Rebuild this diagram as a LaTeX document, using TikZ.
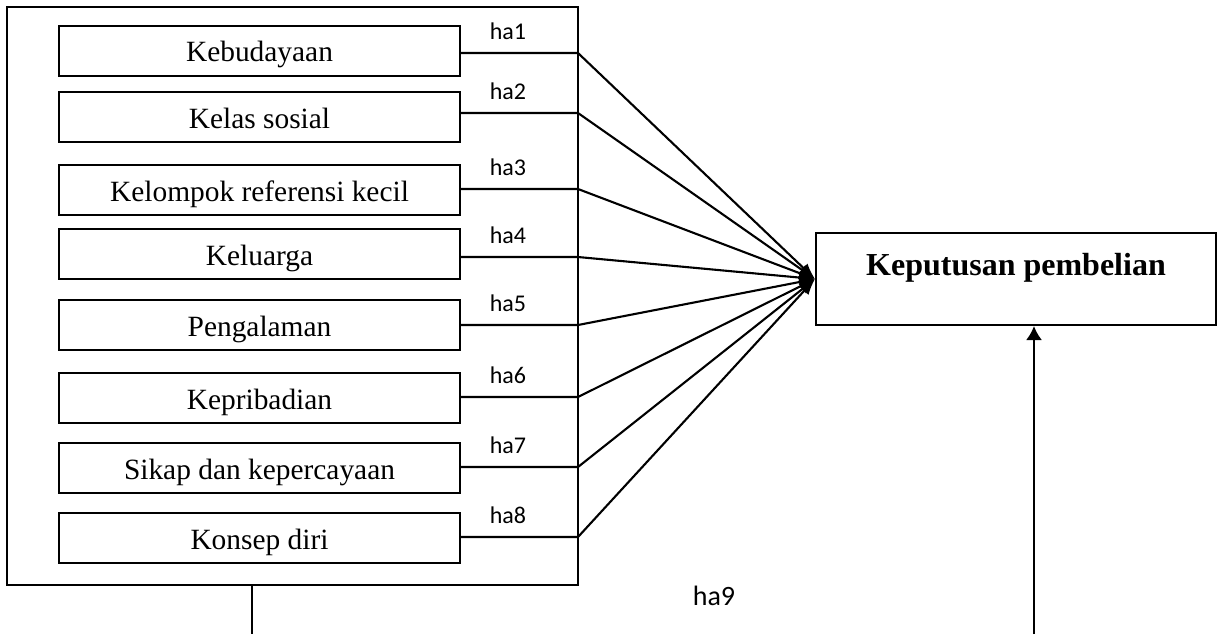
\documentclass[tikz,border=0pt]{standalone}
\usepackage{fontspec}
\setmainfont{Liberation Serif}
\newfontfamily\halabelfont[Numbers=Lining]{Carlito}
\usetikzlibrary{arrows.meta}
\tikzset{
  outerbox/.style={draw, line width=1pt, inner sep=0pt, minimum width=285.5pt, minimum height=289pt},
  factorbox/.style={draw, line width=1pt, inner sep=0pt, minimum width=200.5pt, minimum height=25pt,
    font=\fontsize{14.7}{17}\selectfont, text height=14pt, text depth=3pt},
  resultbox/.style={draw, line width=1pt, inner sep=0pt, minimum width=200pt, minimum height=46pt,
    font=\fontsize{16}{19}\selectfont\bfseries, text height=11pt, text depth=15pt},
  halabel/.style={anchor=base, inner sep=0pt, font=\halabelfont\fontsize{12}{14}\selectfont},
  biglabel/.style={halabel, font=\halabelfont\fontsize{14}{16}\selectfont},
  link/.style={line width=1.05pt, -{Latex[length=8pt,width=6pt]}},
  uparrow/.style={line width=1.05pt, -{Latex[length=7pt,width=8pt]}},
  plain/.style={line width=1.05pt}
}
\begin{document}
\begin{tikzpicture}[x=0.5pt,y=-0.5pt]
\useasboundingbox (0,0) rectangle (1220,634);
\node[outerbox] (grp) at (292.5,296) {};
\node[factorbox] (b1) at (259.5,50.5) {Kebudayaan};
\node[factorbox] (b2) at (259.5,117) {Kelas sosial};
\node[factorbox] (b3) at (259.5,190) {Kelompok referensi kecil};
\node[factorbox] (b4) at (259.5,254) {Keluarga};
\node[factorbox] (b5) at (259.5,325) {Pengalaman};
\node[factorbox] (b6) at (259.5,398) {Kepribadian};
\node[factorbox] (b7) at (259.5,468) {Sikap dan kepercayaan};
\node[factorbox] (b8) at (259.5,538) {Konsep diri};
\node[resultbox] (kp) at (1016,279) {Keputusan pembelian};
% junctions on the outer box edge
\coordinate (j1) at (578,53);
\coordinate (j2) at (578,113);
\coordinate (j3) at (578,189);
\coordinate (j4) at (578,257);
\coordinate (j5) at (578,325);
\coordinate (j6) at (578,397);
\coordinate (j7) at (578,467);
\coordinate (j8) at (578,537);
\foreach \i in {1,...,8}{
  \draw[link] (b\i.east |- j\i) -- (j\i) -- (kp.west);
}
\node[halabel] (h1) at (508,39) {ha1};
\node[halabel] (h2) at (508,99) {ha2};
\node[halabel] (h3) at (508,175) {ha3};
\node[halabel] (h4) at (508,243) {ha4};
\node[halabel] (h5) at (508,311) {ha5};
\node[halabel] (h6) at (508,383) {ha6};
\node[halabel] (h7) at (508,453) {ha7};
\node[halabel] (h8) at (508,523) {ha8};
\node[biglabel] (h9) at (714,605) {ha9};
\coordinate (bl) at (252,634);
\draw[plain] (grp.south -| bl) -- (bl);
\coordinate (br) at (1034,634);
\draw[uparrow] (br) -- (kp.south -| br);
\end{tikzpicture}
\end{document}
